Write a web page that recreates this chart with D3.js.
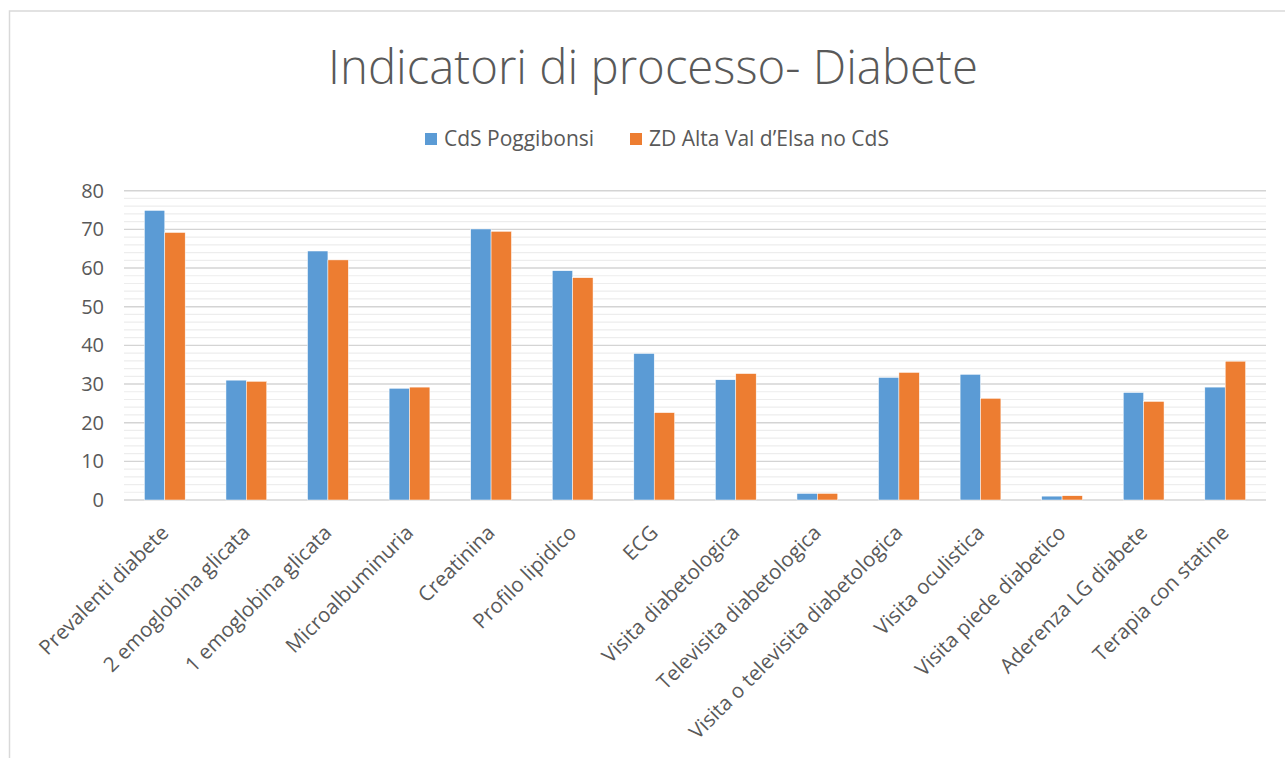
<!DOCTYPE html>
<html>
<head>
<meta charset="utf-8">
<script src="https://cdn.jsdelivr.net/npm/d3@7"></script>
<style>
  body { margin: 0; background: #fff; }
  text { font-family: "Open Sans", "Noto Sans", sans-serif; fill: #595959; }
</style>
</head>
<body>
<div id="chart"></div>
<script>
// data
const categories = [
  "Prevalenti diabete", "2 emoglobina glicata", "1 emoglobina glicata", "Microalbuminuria",
  "Creatinina", "Profilo lipidico", "ECG", "Visita diabetologica", "Televisita diabetologica",
  "Visita o televisita diabetologica", "Visita oculistica", "Visita piede diabetico",
  "Aderenza LG diabete", "Terapia con statine"
];
const seriesNames = ["CdS Poggibonsi", "ZD Alta Val d\u2019Elsa no CdS"];
const cdsValues = [74.9, 31.0, 64.4, 28.9, 70.1, 59.3, 37.9, 31.1, 1.7, 31.7, 32.5, 1.0, 27.8, 29.2];
const zdValues  = [69.2, 30.7, 62.1, 29.2, 69.5, 57.5, 22.6, 32.7, 1.7, 33.0, 26.3, 1.1, 25.5, 35.9];
const yTicks = [0, 10, 20, 30, 40, 50, 60, 70, 80];
const colors = ["#5B9BD5", "#ED7D31"];

document.addEventListener('DOMContentLoaded', () => {
    const width = 1285, height = 758;
    const margin = { left: 124, right: 19, top: 190.7, bottom: 258 };

    const svg = d3.select("#chart").append("svg")
        .attr("width", width)
        .attr("height", height);

    // chart frame (runs past the right/bottom edges like the crop in the reference)
    svg.append("rect")
        .attr("x", 9.5).attr("y", 11)
        .attr("width", width + 20).attr("height", height + 20)
        .attr("fill", "none")
        .attr("stroke", "#D9D9D9")
        .attr("stroke-width", 1.5);

    const x = d3.scaleBand()
        .domain(categories)
        .range([margin.left, width - margin.right])
        .paddingInner(0.5)
        .paddingOuter(0.25);

    const x1 = d3.scaleBand()
        .domain(seriesNames)
        .range([0, x.bandwidth()]);

    const y = d3.scaleLinear()
        .domain([0, 80])
        .range([height - margin.bottom, margin.top]);

    // minor gridlines every 2
    svg.append("g")
        .selectAll("line")
        .data(d3.range(0, 81, 2).filter(v => v % 10 !== 0))
        .join("line")
        .attr("x1", margin.left).attr("x2", width - margin.right)
        .attr("y1", d => y(d)).attr("y2", d => y(d))
        .attr("stroke", "#EDEDED")
        .attr("stroke-width", 1.2);

    // major gridlines
    svg.append("g")
        .selectAll("line")
        .data(yTicks)
        .join("line")
        .attr("x1", margin.left).attr("x2", width - margin.right)
        .attr("y1", d => y(d)).attr("y2", d => y(d))
        .attr("stroke", "#D4D4D4")
        .attr("stroke-width", 1.4);

    // y axis labels
    const yAxis = svg.append("g")
        .attr("transform", `translate(${margin.left - 20},0)`)
        .call(d3.axisLeft(y).tickValues(yTicks).tickSize(0).tickPadding(0));
    yAxis.select(".domain").remove();
    yAxis.selectAll("text")
        .attr("font-size", 20)
        .attr("font-family", null)
        .attr("fill", "#595959");

    // bars
    const series = [cdsValues, zdValues];
    svg.append("g")
        .selectAll("g")
        .data(categories)
        .join("g")
        .attr("transform", d => `translate(${x(d)},0)`)
        .selectAll("rect")
        .data((d, i) => seriesNames.map((s, j) => ({ s, v: series[j][i], j })))
        .join("rect")
        .attr("x", d => x1(d.s))
        .attr("y", d => y(d.v))
        .attr("width", x1.bandwidth())
        .attr("height", d => y(0) - y(d.v))
        .attr("fill", d => colors[d.j])
        .attr("stroke", "#fff")
        .attr("stroke-width", 0.5);

    // x axis labels, rotated
    const xAxis = svg.append("g")
        .attr("transform", `translate(0,${y(0)})`)
        .call(d3.axisBottom(x).tickSize(0).tickPadding(0));
    xAxis.select(".domain").remove();
    xAxis.selectAll("text")
        .attr("font-size", 20.5)
        .attr("font-family", null)
        .attr("fill", "#595959")
        .attr("text-anchor", "end")
        .attr("dy", null)
        .attr("y", 0)
        .attr("transform", "translate(5,34) rotate(-45)");

    // title
    const title = svg.append("text")
        .attr("x", 653)
        .attr("y", 84)
        .attr("text-anchor", "middle")
        .attr("font-size", 42)
        .attr("font-weight", 300)
        .text("Indicatori di processo- Diabete");
    const tw = title.node().getComputedTextLength();
    title.attr("font-size", 42 * 650 / tw);

    // legend
    const legendX = [425, 630];
    const legend = svg.append("g")
        .selectAll("g")
        .data(seriesNames)
        .join("g")
        .attr("transform", (d, i) => `translate(${legendX[i]},133)`);
    legend.append("rect")
        .attr("width", 12).attr("height", 12)
        .attr("fill", (d, i) => colors[i]);
    legend.append("text")
        .attr("x", 19).attr("y", 13)
        .attr("font-size", 21)
        .text(d => d);
});
</script>
</body>
</html>
